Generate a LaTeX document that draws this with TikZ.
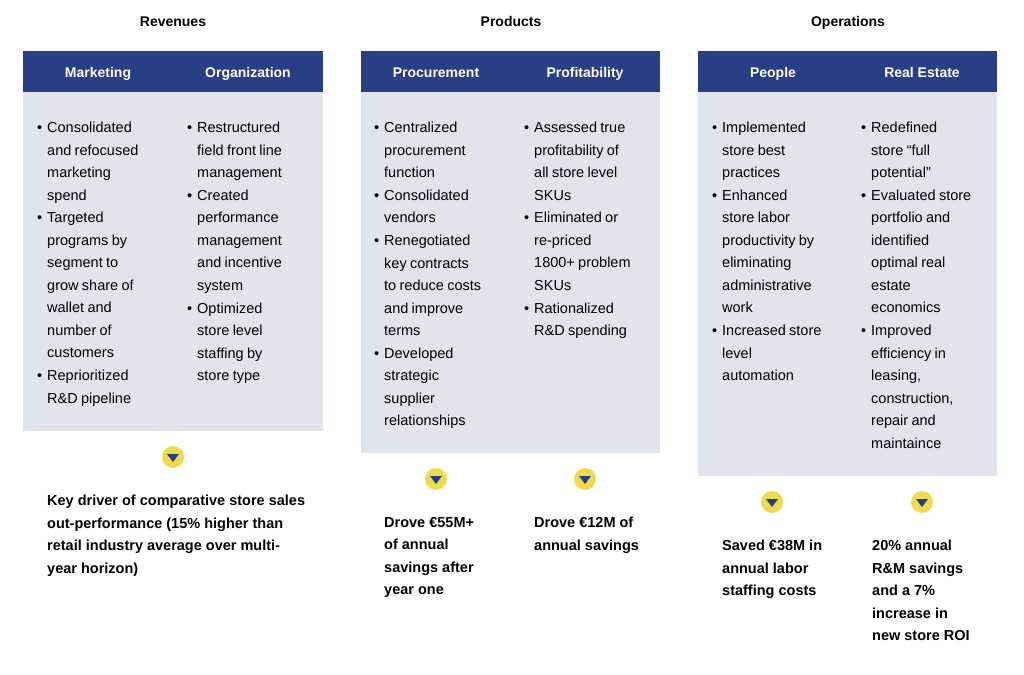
\documentclass[tikz,border=0pt]{standalone}
\usepackage{fontspec}
\setmainfont{Liberation Sans}
\usetikzlibrary{positioning,calc}
\definecolor{navy}{HTML}{283F85}
\definecolor{pale}{HTML}{E0E4EC}
\definecolor{gold}{HTML}{EEDB4E}
\newcommand{\bodyfont}{\fontsize{14.5}{22.5}\selectfont}
\newenvironment{blist}{\bodyfont\raggedright
  \renewcommand\labelitemi{\textbullet}%
  \setlength\leftmargini{11pt}\setlength\labelsep{5pt}%
  \setlength\parskip{0pt}\setlength\partopsep{0pt}%
  \begin{itemize}\setlength\itemsep{-3.8pt}\setlength\parsep{0pt}\setlength\topsep{0pt}}%
  {\end{itemize}}
\newcommand{\marker}[2]{%
  \node[circle,fill=gold,minimum size=22pt,inner sep=0pt] (#1) at #2 {};
  \fill[navy] ($(#1)+(-6,-3)$) -- ($(#1)+(6,-3)$) -- ($(#1)+(0,5)$) -- cycle;}
\begin{document}
\begin{tikzpicture}[x=1pt,y=-1pt,
  title/.style={font=\bfseries\fontsize{14}{17}\selectfont,text height=10pt,text depth=3pt},
  head/.style={font=\bfseries\fontsize{14}{17}\selectfont,text=white,text height=10pt,text depth=3pt},
  items/.style={anchor=north west,inner sep=0pt,text width=135pt},
  result/.style={anchor=north west,inner sep=0pt,align=left,font=\bfseries\fontsize{14.5}{22.5}\selectfont}]
\useasboundingbox (0,0) rectangle (1024,674);
% column titles
\node[title] (rev) at (173,23) {Revenues};
\node[title] (prod) at (511,23) {Products};
\node[title] (ops) at (848,23) {Operations};
% boxes
\fill[pale] (23,92) rectangle (323,431);
\fill[navy] (23,51) rectangle (323,92);
\fill[pale] (361,92) rectangle (660,453);
\fill[navy] (361,51) rectangle (660,92);
\fill[pale] (698,92) rectangle (997,476);
\fill[navy] (698,51) rectangle (997,92);
\node[head] (mkt) at (98,74) {Marketing};
\node[head] (org) at (248,74) {Organization};
\node[head] (proc) at (436,74) {Procurement};
\node[head] (prof) at (585,74) {Profitability};
\node[head] (ppl) at (773,74) {People};
\node[head] (re) at (922,74) {Real Estate};
% bullet lists
\node[items] (mktl) at (36,102) {\begin{blist}
\item Consolidated\\and refocused\\marketing\\spend
\item Targeted\\programs by\\segment to\\grow share of\\wallet and\\number of\\customers
\item Reprioritized\\R\&D pipeline\end{blist}};
\node[items] (orgl) at (186,102) {\begin{blist}
\item Restructured\\field front line\\management
\item Created\\performance\\management\\and incentive\\system
\item Optimized\\store level\\staffing by\\store type\end{blist}};
\node[items] (procl) at (373,102) {\begin{blist}
\item Centralized\\procurement\\function
\item Consolidated\\vendors
\item Renegotiated\\key contracts\\to reduce costs\\and improve\\terms
\item Developed\\strategic\\supplier\\relationships\end{blist}};
\node[items] (profl) at (523,102) {\begin{blist}
\item Assessed true\\profitability of\\all store level\\SKUs
\item Eliminated or\\re-priced\\1800+ problem\\SKUs
\item Rationalized\\R\&D spending\end{blist}};
\node[items] (ppll) at (711,102) {\begin{blist}
\item Implemented\\store best\\practices
\item Enhanced\\store labor\\productivity by\\eliminating\\administrative\\work
\item Increased store\\level\\automation\end{blist}};
\node[items] (rel) at (860,102) {\begin{blist}
\item Redefined\\store “full\\potential”
\item Evaluated store\\portfolio and\\identified\\optimal real\\estate\\economics
\item Improved\\efficiency in\\leasing,\\construction,\\repair and\\maintaince\end{blist}};
% markers
\marker{m1}{(173,457)}
\marker{m2}{(436,479)}
\marker{m3}{(585,479)}
\marker{m4}{(772,502)}
\marker{m5}{(922,502)}
% outcomes
\node[result] (r1) at (47,495) {Key driver of comparative store sales\\out-performance (15\% higher than\\retail industry average over multi-\\year horizon)};
\node[result] (r2) at (384,517) {Drove €55M+\\of annual\\savings after\\year one};
\node[result] (r3) at (534,517) {Drove €12M of\\annual savings};
\node[result] (r4) at (722,540) {Saved €38M in\\annual labor\\staffing costs};
\node[result] (r5) at (872,540) {20\% annual\\R\&M savings\\and a 7\%\\increase in\\new store ROI};
\end{tikzpicture}
\end{document}
